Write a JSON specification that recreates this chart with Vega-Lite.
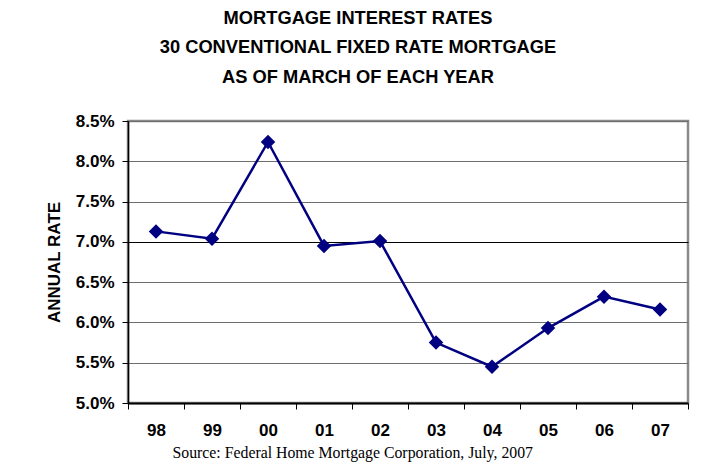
{
  "$schema": "https://vega.github.io/schema/vega-lite/v6.json",
  "autosize": {"type": "none"},
  "width": 560,
  "height": 282,
  "padding": {"left": 128, "top": 121, "right": 29, "bottom": 61},
  "background": "white",
  "title": {
    "text": ["MORTGAGE INTEREST RATES", "30 CONVENTIONAL FIXED RATE MORTGAGE", "AS OF MARCH OF EACH YEAR"],
    "font": "Liberation Sans",
    "fontSize": 18.3,
    "fontWeight": "bold",
    "color": "black",
    "lineHeight": 29.5,
    "anchor": "middle",
    "dx": -50,
    "offset": 25
  },
  "data": {
    "values": [
      {"year": "98", "rate": 7.13},
      {"year": "99", "rate": 7.04},
      {"year": "00", "rate": 8.24},
      {"year": "01", "rate": 6.95},
      {"year": "02", "rate": 7.01},
      {"year": "03", "rate": 5.75},
      {"year": "04", "rate": 5.45},
      {"year": "05", "rate": 5.93},
      {"year": "06", "rate": 6.32},
      {"year": "07", "rate": 6.16}
    ]
  },
  "encoding": {
    "x": {
      "field": "year",
      "type": "ordinal",
      "sort": null,
      "scale": {"paddingInner": 0, "paddingOuter": 0},
      "axis": {
        "title": "Source: Federal Home Mortgage Corporation, July, 2007",
        "titleFont": "Liberation Serif",
        "titleFontSize": 15.8,
        "titleFontWeight": "normal",
        "titleColor": "black",
        "titleAnchor": "start",
        "titleAlign": "left",
        "titleX": 44,
        "titleY": 54,
        "titleBaseline": "alphabetic",
        "labelAngle": 0,
        "labelFont": "Liberation Sans",
        "labelFontSize": 17,
        "labelFontWeight": "bold",
        "labelColor": "black",
        "labelPadding": 13,
        "tickBand": "extent",
        "tickSize": 6,
        "tickColor": "black",
        "domainColor": "black",
        "domainWidth": 2,
        "grid": false
      }
    },
    "y": {
      "field": "rate",
      "type": "quantitative",
      "scale": {"domain": [5, 8.5], "nice": false, "zero": false},
      "axis": {
        "title": "ANNUAL RATE",
        "titleFont": "Liberation Sans",
        "titleFontSize": 17,
        "titleFontWeight": "bold",
        "titleColor": "black",
        "titlePadding": 12,
        "values": [5, 5.5, 6, 6.5, 7, 7.5, 8, 8.5],
        "labelExpr": "format(datum.value, '.1f') + '%'",
        "labelFont": "Liberation Sans",
        "labelFontSize": 17,
        "labelFontWeight": "bold",
        "labelColor": "black",
        "labelPadding": 8,
        "tickSize": 6,
        "tickColor": "black",
        "domainColor": "black",
        "domainWidth": 1.5,
        "grid": true,
        "gridColor": {"condition": {"test": "datum.value === 7", "value": "black"}, "value": "#6e6e6e"},
        "gridWidth": 1.2
      }
    }
  },
  "layer": [
    {"mark": {"type": "line", "color": "#000080", "strokeWidth": 2.5}},
    {"mark": {"type": "point", "shape": "diamond", "filled": true, "color": "#000080", "opacity": 1, "size": 210}}
  ],
  "config": {
    "view": {"stroke": "#8a8a8a", "strokeWidth": 2.5}
  }
}
